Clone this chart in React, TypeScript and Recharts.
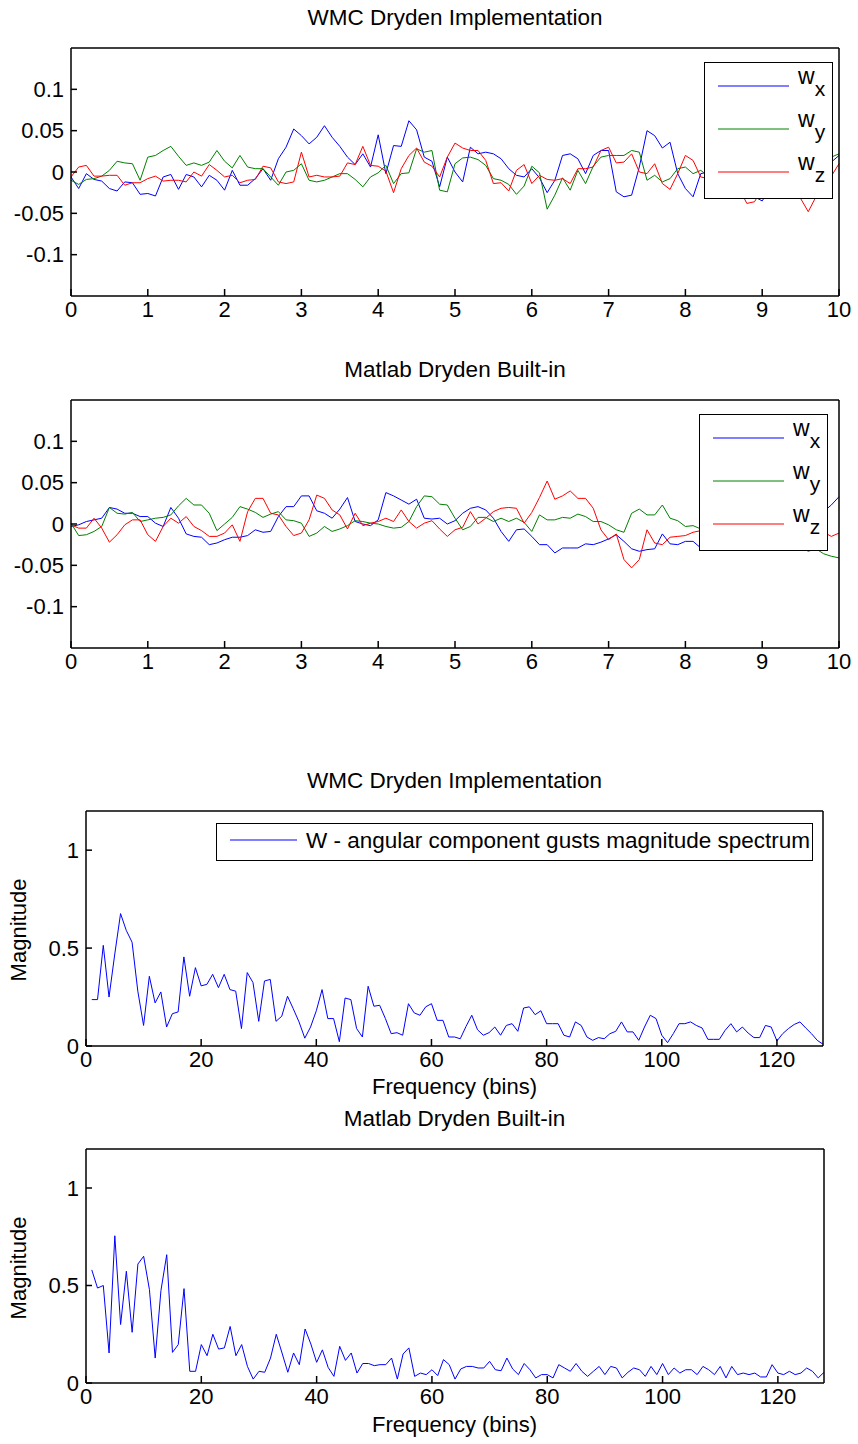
import { LineChart, Line, XAxis, YAxis, Legend } from "recharts";

const FONT = "'Liberation Sans', Arial, Helvetica, sans-serif";

// axis ticks
const timeTicks = [0, 1, 2, 3, 4, 5, 6, 7, 8, 9, 10];
const gustTicks = [-0.1, -0.05, 0, 0.05, 0.1];
const binTicks = [0, 20, 40, 60, 80, 100, 120];
const magTicks = [0, 0.5, 1];

// WMC Dryden implementation, one sample every 0.1 s (0..10 s)
const wmcWx = [
  -0.006, -0.02, -0.002, -0.009, -0.011, -0.02, -0.023, -0.012, -0.013, -0.027,
  -0.026, -0.029, -0.006, -0.003, -0.021, -0.003, -0.006, -0.018, -0.004, -0.01,
  -0.022, 0.002, -0.016, -0.016, -0.008, 0.004, -0.01, 0.016, 0.03, 0.052,
  0.044, 0.034, 0.042, 0.056, 0.042, 0.031, 0.018, 0.009, 0.022, 0.006,
  0.045, -0.002, 0.032, 0.031, 0.062, 0.051, 0.018, 0.013, -0.018, 0.018,
  0.0, -0.012, 0.03, 0.022, 0.024, 0.022, 0.016, 0.004, -0.004, -0.006,
  0.004, -0.007, -0.025, -0.01, 0.02, 0.022, 0.016, -0.002, 0.02, 0.026,
  0.026, -0.024, -0.03, -0.028, 0.006, 0.05, 0.044, 0.029, 0.036, -0.002,
  -0.02, -0.03, -0.002, 0.0, 0.005, -0.005, -0.01, -0.015, -0.02, -0.03,
  -0.035, -0.02, -0.01, 0.0, -0.005, 0.0, 0.005, 0.01, 0.0, 0.012,
  0.02,
];
const wmcWy = [
  -0.01, -0.015, -0.009, -0.008, -0.005, 0.002, 0.013, 0.011, 0.01, -0.01,
  0.018, 0.02, 0.026, 0.031, 0.019, 0.008, 0.011, 0.008, 0.012, 0.026,
  0.013, 0.005, 0.02, 0.006, 0.004, 0.004, -0.006, -0.016, 0.0, 0.002,
  0.01, -0.01, -0.012, -0.01, -0.006, -0.002, -0.002, -0.009, -0.018, -0.006,
  -0.001, 0.008, -0.014, -0.002, -0.001, 0.028, 0.024, 0.026, -0.022, -0.024,
  0.01, 0.017, 0.018, 0.015, 0.008, -0.008, -0.01, -0.015, -0.027, -0.017,
  0.007, -0.001, -0.045, -0.028, -0.007, -0.022, 0.002, -0.014, 0.007, 0.018,
  0.02, 0.02, 0.02, 0.026, 0.024, -0.01, -0.004, -0.012, -0.008, 0.004,
  0.006, -0.002, 0.002, -0.005, 0.0, 0.004, -0.003, -0.008, -0.004, 0.002,
  0.006, 0.0, -0.006, -0.01, -0.004, 0.003, 0.008, 0.002, 0.01, 0.018,
  0.022,
];
const wmcWz = [
  -0.006, 0.006, 0.008, -0.005, -0.005, -0.004, -0.004, -0.016, -0.013, -0.013,
  -0.008, -0.005, -0.011, -0.01, -0.01, -0.012, 0.0, -0.005, 0.009, 0.002,
  -0.006, -0.004, -0.013, -0.01, -0.009, 0.007, 0.005, -0.012, -0.014, -0.012,
  0.024, -0.006, -0.004, -0.006, -0.006, -0.005, 0.011, 0.009, 0.031, 0.008,
  0.007, 0.001, -0.025, 0.004, 0.02, 0.029, 0.012, 0.007, -0.006, 0.018,
  0.035, 0.029, 0.026, 0.026, 0.014, -0.014, -0.013, -0.023, 0.002, 0.009,
  -0.014, -0.004, -0.009, -0.01, -0.008, -0.014, 0.004, 0.004, 0.006, 0.026,
  0.03, 0.011, 0.012, 0.022, 0.0, -0.002, 0.01, -0.014, -0.021, -0.002,
  0.02, 0.014, -0.006, -0.008, 0.002, -0.004, -0.012, -0.02, -0.038, -0.036,
  -0.02, -0.01, -0.004, -0.012, -0.02, -0.032, -0.048, -0.03, -0.01, -0.005,
  0.01,
];

// Matlab Dryden built-in block, same sampling
const mlWx = [
  -0.003, -0.001, 0.003, 0.005, 0.007, 0.02, 0.018, 0.013, 0.013, 0.009,
  0.009, 0.001, -0.003, 0.02, 0.007, -0.012, -0.015, -0.016, -0.025, -0.023,
  -0.019, -0.016, -0.016, -0.014, -0.007, -0.01, -0.009, 0.009, 0.021, 0.021,
  0.034, 0.034, 0.016, 0.013, 0.007, 0.018, 0.032, 0.003, 0.0, -0.002,
  0.005, 0.038, 0.034, 0.029, 0.024, 0.03, 0.007, 0.006, 0.007, 0.0,
  0.004, 0.013, 0.019, 0.021, 0.017, 0.007, -0.009, -0.021, -0.007, -0.006,
  -0.015, -0.025, -0.025, -0.035, -0.029, -0.029, -0.029, -0.024, -0.025, -0.022,
  -0.018, -0.013, -0.021, -0.03, -0.033, -0.031, -0.03, -0.012, -0.024, -0.025,
  -0.021, -0.021, -0.029, -0.025, -0.02, -0.022, -0.018, -0.015, -0.02, -0.024,
  -0.018, -0.012, -0.008, -0.005, 0.0, 0.004, 0.008, 0.012, 0.015, 0.023,
  0.033,
];
const mlWy = [
  0.001, -0.014, -0.013, -0.009, -0.003, 0.02, 0.013, 0.012, 0.014, 0.003,
  0.005, 0.007, 0.008, 0.011, 0.022, 0.031, 0.023, 0.023, 0.013, -0.008,
  0.0, 0.008, 0.021, 0.018, 0.014, 0.008, 0.012, 0.015, 0.005, 0.004,
  0.001, -0.015, -0.011, -0.003, -0.009, -0.006, -0.002, 0.004, 0.003, 0.001,
  0.0, -0.003, -0.005, -0.004, 0.003, 0.021, 0.034, 0.033, 0.024, 0.023,
  0.007, -0.007, -0.003, 0.008, 0.008, 0.003, 0.007, 0.003, 0.007, 0.002,
  -0.009, 0.011, 0.005, 0.005, 0.008, 0.007, 0.012, 0.009, 0.003, 0.003,
  -0.001, -0.007, -0.01, 0.013, 0.018, 0.011, 0.011, 0.023, 0.007, 0.004,
  -0.003, -0.002, -0.006, -0.004, -0.01, -0.008, -0.014, -0.012, -0.018, -0.015,
  -0.02, -0.016, -0.022, -0.019, -0.025, -0.028, -0.033, -0.03, -0.036, -0.039,
  -0.041,
];
const mlWz = [
  -0.001, -0.005, -0.005, 0.007, -0.005, -0.022, -0.013, -0.001, 0.005, 0.005,
  -0.013, -0.021, -0.003, 0.007, 0.001, 0.009, -0.003, -0.008, -0.015, -0.015,
  -0.011, -0.001, -0.021, 0.015, 0.031, 0.031, 0.013, 0.011, -0.003, -0.014,
  -0.011, 0.005, 0.035, 0.031, 0.017, 0.011, -0.006, 0.013, -0.002, 0.001,
  0.003, 0.007, 0.003, 0.017, 0.003, -0.005, 0.001, 0.004, -0.006, -0.015,
  -0.007, -0.004, 0.015, 0.0, 0.007, 0.015, 0.019, 0.02, 0.019, 0.001,
  0.014, 0.032, 0.052, 0.03, 0.034, 0.04, 0.031, 0.031, 0.019, -0.007,
  -0.019, -0.012, -0.043, -0.053, -0.043, -0.007, -0.023, -0.025, -0.016, -0.015,
  -0.014, -0.01, -0.008, -0.012, -0.006, -0.01, -0.004, -0.008, -0.012, -0.006,
  -0.002, -0.008, -0.012, -0.01, -0.016, -0.012, -0.018, -0.014, -0.01, -0.015,
  -0.011,
];

// magnitude spectra, bins 1..128
const wmcSpectrum = [
  0.237, 0.237, 0.514, 0.25, 0.47, 0.676, 0.59, 0.53, 0.28, 0.105,
  0.356, 0.22, 0.276, 0.097, 0.165, 0.174, 0.455, 0.254, 0.4, 0.307,
  0.315, 0.366, 0.298, 0.366, 0.288, 0.28, 0.089, 0.375, 0.324, 0.126,
  0.332, 0.34, 0.126, 0.152, 0.254, 0.19, 0.123, 0.04, 0.097, 0.18,
  0.288, 0.14, 0.14, 0.022, 0.245, 0.237, 0.089, 0.046, 0.305, 0.203,
  0.208, 0.14, 0.063, 0.068, 0.055, 0.216, 0.169, 0.157, 0.2, 0.216,
  0.131, 0.131, 0.046, 0.046, 0.037, 0.1, 0.157, 0.083, 0.055, 0.068,
  0.097, 0.055, 0.105, 0.114, 0.075, 0.194, 0.2, 0.16, 0.18, 0.114,
  0.114, 0.114, 0.055, 0.046, 0.123, 0.105, 0.046, 0.029, 0.043, 0.037,
  0.063, 0.075, 0.123, 0.072, 0.072, 0.029, 0.097, 0.157, 0.14, 0.055,
  0.017, 0.063, 0.114, 0.114, 0.123, 0.105, 0.092, 0.034, 0.034, 0.034,
  0.08, 0.114, 0.072, 0.097, 0.066, 0.043, 0.043, 0.105, 0.097, 0.026,
  0.063, 0.089, 0.11, 0.123, 0.092, 0.063, 0.029, 0.009,
];
const mlSpectrum = [
  0.58, 0.487, 0.5, 0.154, 0.755, 0.3, 0.573, 0.26, 0.61, 0.65,
  0.479, 0.128, 0.474, 0.658, 0.157, 0.197, 0.484, 0.06, 0.06, 0.197,
  0.14, 0.25, 0.174, 0.18, 0.29, 0.14, 0.197, 0.085, 0.02, 0.06,
  0.055, 0.128, 0.25, 0.154, 0.055, 0.154, 0.094, 0.277, 0.2, 0.106,
  0.17, 0.08, 0.034, 0.188, 0.116, 0.154, 0.051, 0.1, 0.1, 0.089,
  0.094, 0.094, 0.128, 0.02, 0.149, 0.18, 0.034, 0.051, 0.043, 0.068,
  0.038, 0.12, 0.094, 0.02, 0.072, 0.085, 0.085, 0.077, 0.077, 0.111,
  0.068, 0.063, 0.128, 0.072, 0.043, 0.1, 0.068, 0.026, 0.043, 0.043,
  0.026, 0.094, 0.077, 0.06, 0.1, 0.06, 0.034, 0.06, 0.085, 0.043,
  0.085, 0.077, 0.026, 0.055, 0.077, 0.068, 0.034, 0.085, 0.043, 0.1,
  0.043, 0.077, 0.051, 0.068, 0.068, 0.043, 0.085, 0.068, 0.043, 0.085,
  0.026, 0.085, 0.043, 0.051, 0.043, 0.051, 0.031, 0.031, 0.094, 0.051,
  0.043, 0.06, 0.043, 0.051, 0.077, 0.06, 0.026, 0.055,
];

const toRows = (wx: number[], wy: number[], wz: number[]) =>
  wx.map((v, i) => ({ t: i / 10, wx: v, wy: wy[i], wz: wz[i] }));
const toBins = (mag: number[]) => mag.map((m, i) => ({ bin: i + 1, mag: m }));

const tickStyle = { fill: "#000", fontSize: 22, fontFamily: FONT };
const frame = { stroke: "#000", strokeWidth: 1.5 };

function GustLegend({ payload }: any) {
  const items = (payload || []).filter((p: any) => p.type !== "none");
  return (
    <div style={{ width: 129, height: 137, boxSizing: "border-box", border: "1.5px solid #000", background: "#fff" }}>
      <svg width={126} height={134} style={{ display: "block" }}>
        {items.map((p: any, i: number) => {
          const y = 23 + i * 43;
          return (
            <g key={p.value}>
              <line x1={13} x2={84} y1={y} y2={y} stroke={p.color} strokeWidth={1} />
              <text x={93} y={y - 2} fontSize={23} fontFamily={FONT} fill="#000">
                w
                <tspan dy={12} fontSize={21}>{p.value}</tspan>
              </text>
            </g>
          );
        })}
      </svg>
    </div>
  );
}

function SpectrumLegend({ payload }: any) {
  const p = (payload || []).filter((q: any) => q.type !== "none")[0];
  if (!p) return null;
  return (
    <div style={{ width: 597, height: 38, boxSizing: "border-box", border: "1.5px solid #000", background: "#fff" }}>
      <svg width={594} height={35} style={{ display: "block" }}>
        <line x1={13} x2={80} y1={16} y2={16} stroke={p.color} strokeWidth={1} />
        <text x={89} y={24} fontSize={22.5} fontFamily={FONT} fill="#000">{p.value}</text>
      </svg>
    </div>
  );
}

const titleStyle = (left: number, width: number): React.CSSProperties => ({
  position: "absolute", left, top: 5, width, textAlign: "center",
  fontFamily: FONT, fontSize: 22.5, lineHeight: "26px", color: "#000",
});

function GustPanel({ top, title, rows, legendLeft }: any) {
  return (
    <div style={{ position: "absolute", left: 0, top, width: 858, height: 340 }}>
      <div style={titleStyle(71, 768)}>{title}</div>
      <LineChart width={858} height={330} data={rows} margin={{ top: 47, right: 18, bottom: 4, left: 11 }}>
        <XAxis dataKey="t" type="number" domain={[0, 10]} ticks={timeTicks} interval={0}
          height={30} tick={tickStyle} tickSize={-7} tickMargin={12} axisLine={frame} tickLine={frame} />
        <XAxis xAxisId="top" orientation="top" dataKey="t" type="number" domain={[0, 10]} ticks={timeTicks}
          interval={0} height={1} tick={false} tickSize={-7} axisLine={frame} tickLine={frame} />
        <YAxis type="number" domain={[-0.15, 0.15]} ticks={gustTicks} interval={0} width={60}
          tick={tickStyle} tickSize={-6} tickMargin={13} axisLine={frame} tickLine={frame} />
        <YAxis yAxisId="right" orientation="right" type="number" domain={[-0.15, 0.15]} ticks={gustTicks}
          interval={0} width={1} tick={false} tickSize={-6} axisLine={frame} tickLine={frame} />
        {/* invisible copy so the top/right frame axes have a series */}
        <Line xAxisId="top" yAxisId="right" dataKey="wx" stroke="none" legendType="none"
          dot={false} activeDot={false} isAnimationActive={false} />
        <Line dataKey="wx" name="x" stroke="#0000ff" strokeWidth={1} dot={false} activeDot={false} isAnimationActive={false} />
        <Line dataKey="wy" name="y" stroke="#008000" strokeWidth={1} dot={false} activeDot={false} isAnimationActive={false} />
        <Line dataKey="wz" name="z" stroke="#ff0000" strokeWidth={1} dot={false} activeDot={false} isAnimationActive={false} />
        <Legend layout="vertical" align="center" verticalAlign="middle" content={GustLegend}
          wrapperStyle={{ left: legendLeft, top: 62, width: 129, height: 137 }} />
      </LineChart>
    </div>
  );
}

function SpectrumPanel({ top, title, rows, height, right, withLegend }: any) {
  return (
    <div style={{ position: "absolute", left: 0, top, width: 858, height: 345 }}>
      <div style={titleStyle(86, 737)}>{title}</div>
      <div style={{
        position: "absolute", left: -51, top: 154 + (height - 317) / 2, width: 140, height: 26,
        lineHeight: "26px", textAlign: "center", transform: "rotate(-90deg)",
        fontFamily: FONT, fontSize: 22, color: "#000",
      }}>Magnitude</div>
      <LineChart width={858} height={height} data={rows} margin={{ top: 47, right: right - 1, bottom: 4, left: 26 }}>
        <XAxis dataKey="bin" type="number" domain={[0, 128]} ticks={binTicks} interval={0}
          height={30} tick={tickStyle} tickSize={-7} tickMargin={12} axisLine={frame} tickLine={frame} />
        <XAxis xAxisId="top" orientation="top" dataKey="bin" type="number" domain={[0, 128]} ticks={binTicks}
          interval={0} height={1} tick={false} tickSize={-7} axisLine={frame} tickLine={frame} />
        <YAxis type="number" domain={[0, 1.2]} ticks={magTicks} interval={0} width={60}
          tick={tickStyle} tickSize={-6} tickMargin={13} axisLine={frame} tickLine={frame} />
        <YAxis yAxisId="right" orientation="right" type="number" domain={[0, 1.2]} ticks={magTicks}
          interval={0} width={1} tick={false} tickSize={-6} axisLine={frame} tickLine={frame} />
        <Line xAxisId="top" yAxisId="right" dataKey="mag" stroke="none" legendType="none"
          dot={false} activeDot={false} isAnimationActive={false} />
        <Line dataKey="mag" name="W - angular component gusts magnitude spectrum" stroke="#0000ff"
          strokeWidth={1} dot={false} activeDot={false} isAnimationActive={false} />
        {withLegend && (
          <Legend layout="vertical" align="center" verticalAlign="middle" content={SpectrumLegend}
            wrapperStyle={{ left: 216, top: 60, width: 597, height: 38 }} />
        )}
      </LineChart>
      <div style={{
        position: "absolute", left: 86, top: 311, width: 737, textAlign: "center",
        fontFamily: FONT, fontSize: 22, lineHeight: "26px", color: "#000",
      }}>Frequency (bins)</div>
    </div>
  );
}

export default function App() {
  return (
    <div style={{ position: "absolute", left: 0, top: 0, width: 858, height: 1444, background: "#fff" }}>
      <GustPanel top={0} title="WMC Dryden Implementation" rows={toRows(wmcWx, wmcWy, wmcWz)} legendLeft={704} />
      <GustPanel top={352} title="Matlab Dryden Built-in" rows={toRows(mlWx, mlWy, mlWz)} legendLeft={699} />
      <SpectrumPanel top={763} title="WMC Dryden Implementation" rows={toBins(wmcSpectrum)} height={317} right={35} withLegend />
      <SpectrumPanel top={1101} title="Matlab Dryden Built-in" rows={toBins(mlSpectrum)} height={316} right={34} withLegend={false} />
    </div>
  );
}
